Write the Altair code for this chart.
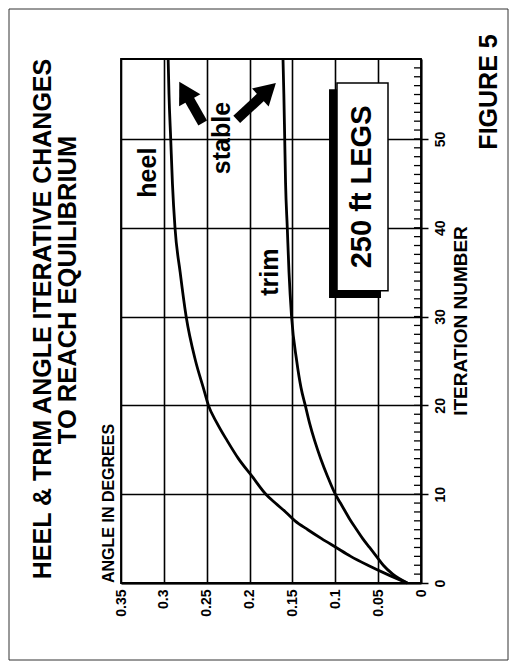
import altair as alt
import pandas as pd
import numpy as np

FONT = "Liberation Sans"

# ---- data ----
iterations = [0, 1, 2, 3, 4, 5, 6, 7, 8, 9, 10, 12, 14, 16, 18, 20, 22, 25, 30, 35, 40, 45, 50, 55, 59]
heel_angle = [0.016, 0.040, 0.062, 0.082, 0.099, 0.116, 0.132, 0.147, 0.158, 0.170, 0.181, 0.197, 0.213,
              0.226, 0.238, 0.248, 0.254, 0.263, 0.274, 0.281, 0.287, 0.290, 0.292, 0.294, 0.295]
trim_angle = [0.016, 0.033, 0.044, 0.052, 0.060, 0.068, 0.075, 0.082, 0.088, 0.094, 0.100, 0.109, 0.117,
              0.124, 0.130, 0.135, 0.140, 0.145, 0.151, 0.154, 0.156, 0.158, 0.159, 0.160, 0.161]

angle_ticks = [0, 0.05, 0.1, 0.15, 0.2, 0.25, 0.3, 0.35]
iter_ticks = [0, 10, 20, 30, 40, 50]
minor_iter = list(range(0, 60))

label_text = ["heel", "stable", "trim"]
label_angle = [0.3185, 0.232, 0.176]
label_iter = [46.2, 50.1, 35.0]

box_text = ["250 ft LEGS"]
box_angle = [0.0688]
box_iter = [44.6]
box_a0, box_a1, box_i0, box_i1 = [0.0385], [0.098], [32.9], [56.3]
shadow_a0, shadow_a1, shadow_i0, shadow_i1 = [0.0467], [0.1073], [32.1], [55.6]

arrow_tail_angle = [0.2547, 0.215]
arrow_tail_iter = [51.8, 52.2]
arrow_tip_angle = [0.2812, 0.1692]
arrow_tip_iter = [56.3, 56.3]

W, H = 300, 524
XMAX, YMAX = 0.35, 59

# ---- tables ----
curves = pd.concat([
    pd.DataFrame({"iteration": iterations, "angle": heel_angle, "series": "heel"}),
    pd.DataFrame({"iteration": iterations, "angle": trim_angle, "series": "trim"}),
])
labels = pd.DataFrame({"text": label_text, "angle": label_angle, "iteration": label_iter})
box = pd.DataFrame({"angle": box_a0, "a1": box_a1, "iteration": box_i0, "i1": box_i1})
shadow = pd.DataFrame({"angle": shadow_a0, "a1": shadow_a1, "iteration": shadow_i0, "i1": shadow_i1})
boxlab = pd.DataFrame({"text": box_text, "angle": box_angle, "iteration": box_iter})

arr = pd.DataFrame({"angle": arrow_tail_angle, "iteration": arrow_tail_iter,
                    "a1": arrow_tip_angle, "i1": arrow_tip_iter})
frac = 0.80
arr["ha"] = arr["angle"] + frac * (arr["a1"] - arr["angle"])
arr["hi"] = arr["iteration"] + frac * (arr["i1"] - arr["iteration"])
dx = -(arr["a1"] - arr["angle"]) * W / XMAX
dy = -(arr["i1"] - arr["iteration"]) * H / YMAX
arr["rot"] = (np.degrees(np.arctan2(dx, -dy)) + 360) % 360
heads_df = pd.DataFrame({"angle": arr["ha"], "iteration": arr["hi"], "rot": arr["rot"]})
minor = pd.DataFrame({"iteration": minor_iter})
one = pd.DataFrame({"a": [0]})

xscale = alt.Scale(domain=[0, XMAX], reverse=True, nice=False)
yscale = alt.Scale(domain=[0, YMAX], nice=False)

xaxis = alt.Axis(values=angle_ticks, format="~g", labelAngle=270, labelAlign="right",
                 labelBaseline="middle", labelPadding=6, labelFont=FONT, labelFontSize=14,
                 labelFontWeight="bold", labelColor="black", grid=True, gridColor="black",
                 gridWidth=1.6, gridOpacity=1, ticks=False, domain=True, domainColor="black",
                 domainWidth=1.8, title=None, labelFlush=False)
yaxis = alt.Axis(orient="right", values=iter_ticks, labelAngle=270, labelAlign="center",
                 labelBaseline="top", labelPadding=5, labelFont=FONT, labelFontSize=14,
                 labelFontWeight="bold", labelColor="black", grid=True, gridColor="black",
                 gridWidth=1.6, gridOpacity=1, ticks=True, tickSize=7, tickColor="black",
                 tickWidth=1.5, domain=True, domainColor="black", domainWidth=1.8,
                 title=None, labelFlush=False)

X = alt.X("angle:Q", scale=xscale, axis=xaxis)
Y = alt.Y("iteration:Q", scale=yscale, axis=yaxis)

lines = alt.Chart(curves).mark_line(color="black", strokeWidth=2.8, interpolate="monotone").encode(
    x=X, y=Y, detail="series:N", order="iteration:Q",
)

minor_ticks = alt.Chart(minor).mark_rule(color="black", strokeWidth=1.3).encode(
    y=Y, x=alt.value(W - 7), x2=alt.value(W),
)

text_labels = alt.Chart(labels).mark_text(angle=270, font=FONT, fontWeight="bold", fontSize=25,
                                          align="center", baseline="middle", color="black").encode(
    x=X, y=Y, text="text:N",
)

shadow_rect = alt.Chart(shadow).mark_rect(color="black").encode(
    x=X, x2="a1:Q", y=Y, y2="i1:Q",
)
box_rect = alt.Chart(box).mark_rect(fill="white", stroke="black", strokeWidth=1.5).encode(
    x=X, x2="a1:Q", y=Y, y2="i1:Q",
)
box_text_mark = alt.Chart(boxlab).mark_text(angle=270, font=FONT, fontWeight="bold", fontSize=29,
                                            align="center", baseline="middle", color="black").encode(
    x=X, y=Y, text="text:N",
)

shafts = alt.Chart(arr).mark_rule(color="black", strokeWidth=10, strokeCap="butt").encode(
    x=X, x2="ha:Q", y=Y, y2="hi:Q",
)
heads = alt.Chart(heads_df).mark_point(shape="triangle-up", filled=True, size=600, color="black",
                                       opacity=1).encode(
    x=X, y=Y, angle=alt.Angle("rot:Q", scale=None),
)

def ptext(txt, x, y, size, align="center"):
    return alt.Chart(one).mark_text(text=txt, angle=270, font=FONT, fontWeight="bold",
                                    fontSize=size, align=align, baseline="middle",
                                    color="black").encode(x=alt.value(x), y=alt.value(y))

title1 = ptext("HEEL  &  TRIM ANGLE ITERATIVE CHANGES", -78, 260, 25)
title2 = ptext("TO REACH EQUILIBRIUM", -53, 231, 25.5)
ylab = ptext("ANGLE IN DEGREES", -12, 524, 16, align="left")
xlab = ptext("ITERATION NUMBER", 340, 262, 19)
fig = ptext("FIGURE 5", 368, 33, 25)

border = alt.Chart(one).mark_rect(filled=False, stroke="#333", strokeWidth=1).encode(
    x=alt.value(-112), x2=alt.value(387), y=alt.value(-50), y2=alt.value(601),
)

chart = alt.layer(
    border, lines, minor_ticks, text_labels, shadow_rect, box_rect, box_text_mark,
    shafts, heads, title1, title2, ylab, xlab, fig,
).properties(
    width=W, height=H,
    padding={"left": 113, "top": 51, "right": 88, "bottom": 78},
    autosize=alt.AutoSizeParams(type="none"),
).configure(
    background="white",
    view=alt.ViewConfig(stroke="black", strokeWidth=1.8),
)

chart.save("out.html", embed_options={"renderer": "svg", "actions": False})
